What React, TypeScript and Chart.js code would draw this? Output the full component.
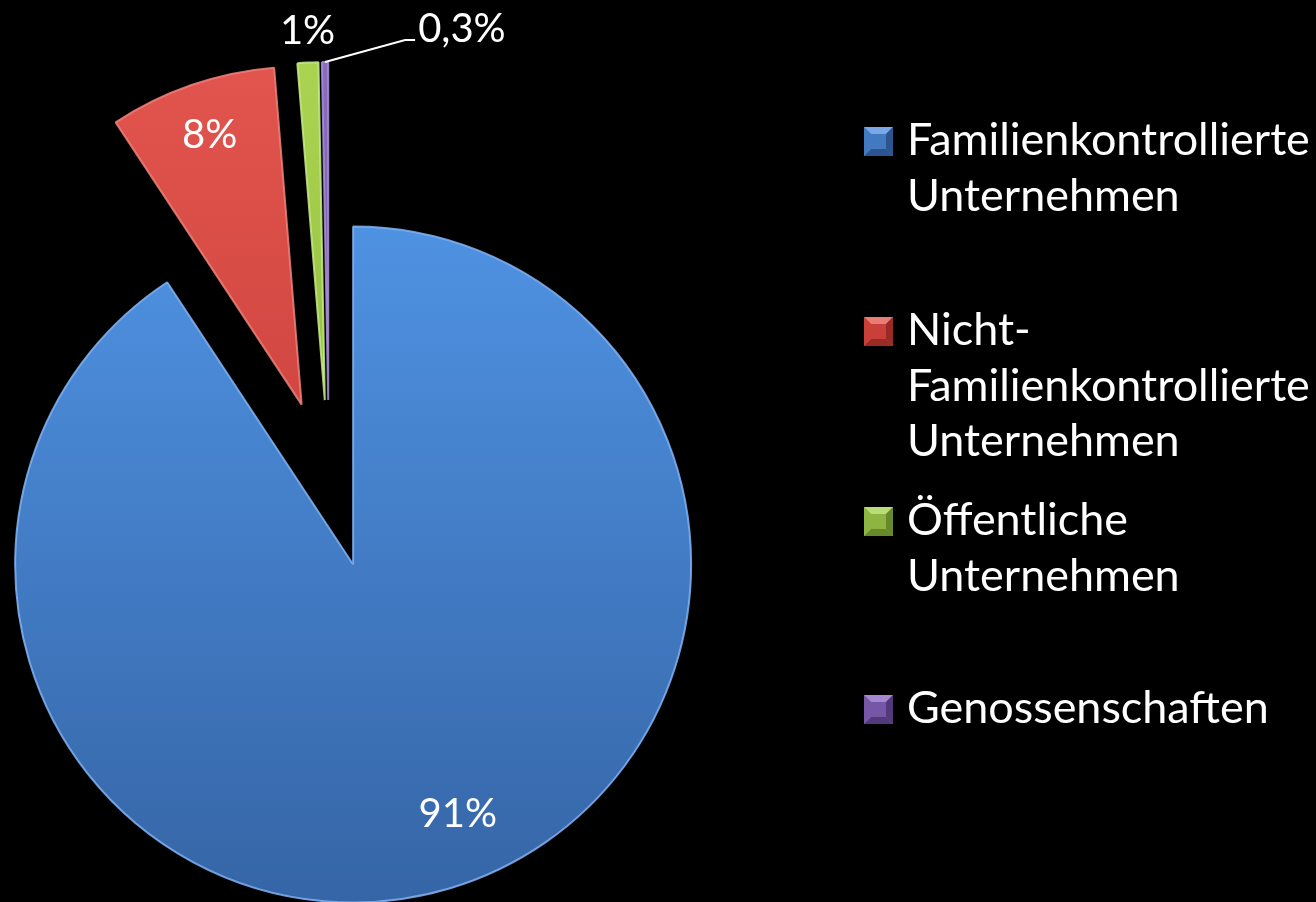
import React, { useEffect, useRef } from 'react';
import { Chart, registerables } from 'chart.js';

Chart.register(...registerables);

// ---------- data ----------
const categories = [
  'Familienkontrollierte Unternehmen',
  'Nicht-Familienkontrollierte Unternehmen',
  'Öffentliche Unternehmen',
  'Genossenschaften',
];
const shares = [91, 8, 1, 0.3];
const valueLabels = ['91%', '8%', '1%', '0,3%'];
const legendLines = [
  ['Familienkontrollierte', 'Unternehmen'],
  ['Nicht-', 'Familienkontrollierte', 'Unternehmen'],
  ['Öffentliche', 'Unternehmen'],
  ['Genossenschaften'],
];

// ---------- style / layout ----------
const W = 1316;
const H = 902;
const RADIUS = 338;
const EXPLODE = 84;
const FONT = 'Lato, "Open Sans", sans-serif';

const topColors = ['#4F92E2', '#E2554E', '#AAD450', '#8B6CC0'];
const bottomColors = ['#3565A6', '#C03833', '#85AD37', '#654993'];
const edgeColors = ['rgba(130,180,245,0.85)', 'rgba(240,130,125,0.85)', 'rgba(200,235,140,0.85)', 'rgba(170,145,215,0.85)'];

const markerBase = ['#4379C0', '#C9403B', '#8DB542', '#7656A6'];
const markerLight = ['#78A8E8', '#E87D78', '#B8DC78', '#A489D2'];
const markerDark = ['#2C5590', '#992A26', '#67892C', '#523A7A'];

// label placement (degrees relative to slice bisector, fraction of radius)
const labelShift = [-6.2, 0.3, 0.2, 12.6];
const labelRadius = [0.796, 0.848, 1.097, 1.089];
const labelSize = 40;

const legendX = 864;
const legendTextX = 907;
const legendMarker = 29;
const legendFirstBaselines = [155, 345, 535, 723];
const legendLineHeight = 55.5;
const legendTargetWidth = 403;

const fillFor = (c: any) => {
  const i = c.dataIndex ?? 0;
  const chart = c.chart;
  const area = chart.chartArea;
  if (!area) return topColors[i];
  const cy = (area.top + area.bottom) / 2;
  const g = chart.ctx.createLinearGradient(0, cy - RADIUS, 0, cy + RADIUS);
  g.addColorStop(0, topColors[i]);
  g.addColorStop(1, bottomColors[i]);
  return g;
};

const explodePlugin = {
  id: 'explodeSlices',
  beforeDatasetsDraw(chart: any) {
    const ctx = chart.ctx;
    const meta = chart.getDatasetMeta(0);
    meta.data.forEach((arc: any) => {
      const mid = (arc.startAngle + arc.endAngle) / 2;
      ctx.save();
      ctx.translate(Math.cos(mid) * EXPLODE, Math.sin(mid) * EXPLODE);
      arc.draw(ctx);
      ctx.restore();
    });
    return false;
  },
};

const labelPlugin = {
  id: 'sliceLabels',
  afterDraw(chart: any) {
    const ctx = chart.ctx;
    const meta = chart.getDatasetMeta(0);
    ctx.save();
    ctx.fillStyle = '#FFFFFF';
    ctx.font = `${labelSize}px ${FONT}`;
    const capH = labelSize * 0.72;
    meta.data.forEach((arc: any, i: number) => {
      const mid = (arc.startAngle + arc.endAngle) / 2;
      const cx = arc.x + Math.cos(mid) * EXPLODE;
      const cy = arc.y + Math.sin(mid) * EXPLODE;
      const R = arc.outerRadius;
      const a = mid + (labelShift[i] * Math.PI) / 180;
      const px = cx + Math.cos(a) * R * labelRadius[i];
      const py = cy + Math.sin(a) * R * labelRadius[i];
      if (i === 3) {
        // leader line
        const sx = cx + Math.cos(mid) * R;
        const sy = cy + Math.sin(mid) * R;
        ctx.strokeStyle = '#FFFFFF';
        ctx.lineWidth = 2;
        ctx.beginPath();
        ctx.moveTo(sx, sy);
        ctx.lineTo(px, py);
        ctx.lineTo(px + 10, py);
        ctx.stroke();
        ctx.textAlign = 'left';
        ctx.fillText(valueLabels[i], px + 13, py - 12 + capH / 2);
      } else {
        ctx.textAlign = 'center';
        ctx.fillText(valueLabels[i], px, py + capH / 2);
      }
    });
    ctx.restore();

    // legend
    ctx.save();
    ctx.font = `100px ${FONT}`;
    const w100 = ctx.measureText('Familienkontrollierte').width;
    const size = (100 * legendTargetWidth) / w100;
    ctx.font = `${size}px ${FONT}`;
    ctx.fillStyle = '#FFFFFF';
    ctx.textAlign = 'left';
    ctx.textBaseline = 'alphabetic';
    legendLines.forEach((lines, i) => {
      const base = legendFirstBaselines[i];
      const y = base - 28;
      const x = legendX;
      const s = legendMarker;
      const b = 7;
      const poly = (pts: number[][], col: string) => {
        ctx.fillStyle = col;
        ctx.beginPath();
        ctx.moveTo(pts[0][0], pts[0][1]);
        for (let k = 1; k < pts.length; k++) ctx.lineTo(pts[k][0], pts[k][1]);
        ctx.closePath();
        ctx.fill();
      };
      ctx.fillStyle = markerBase[i];
      ctx.fillRect(x, y, s, s);
      poly([[x, y], [x + s, y], [x + s - b, y + b], [x + b, y + b]], markerLight[i]);
      poly([[x, y + s], [x + s, y + s], [x + s - b, y + s - b], [x + b, y + s - b]], markerDark[i]);
      poly([[x, y], [x + b, y + b], [x + b, y + s - b], [x, y + s]], markerBase[i]);
      poly([[x + s, y], [x + s - b, y + b], [x + s - b, y + s - b], [x + s, y + s]], markerDark[i]);
      ctx.fillStyle = '#FFFFFF';
      lines.forEach((t, k) => {
        ctx.fillText(t, legendTextX, base + k * legendLineHeight);
      });
    });
    ctx.restore();
  },
};

export default function App() {
  const ref = useRef<HTMLCanvasElement | null>(null);

  useEffect(() => {
    document.body.style.margin = '0';
    document.body.style.background = '#000';
    const canvas = ref.current;
    if (!canvas) return;
    const chart = new Chart(canvas, {
      type: 'pie',
      data: {
        labels: categories,
        datasets: [
          {
            data: shares,
            backgroundColor: fillFor as any,
            borderColor: edgeColors,
            borderWidth: 2,
          },
        ],
      },
      options: {
        animation: false,
        responsive: false,
        devicePixelRatio: 1,
        events: [],
        radius: RADIUS,
        layout: { padding: { left: 0, right: 658, top: 66, bottom: 0 } },
        plugins: {
          legend: { display: false },
          tooltip: { enabled: false },
          title: { display: false },
        },
      } as any,
      plugins: [explodePlugin, labelPlugin],
    });
    return () => chart.destroy();
  }, []);

  return (
    <div style={{ width: W, height: H, background: '#000', overflow: 'hidden' }}>
      <canvas ref={ref} width={W} height={H} style={{ display: 'block' }} />
    </div>
  );
}
